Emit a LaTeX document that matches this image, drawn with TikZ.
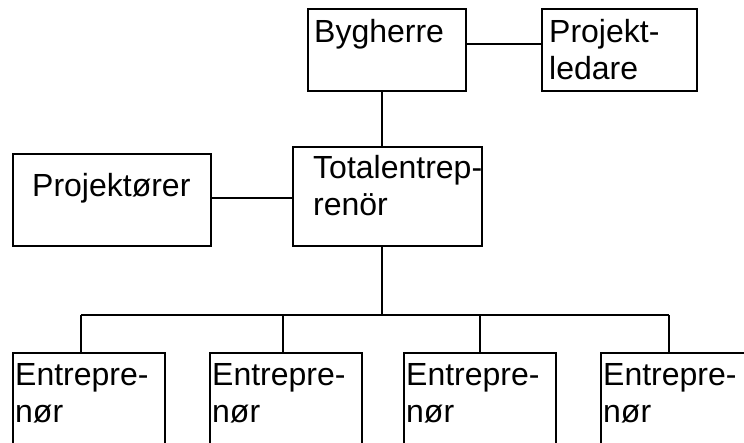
\documentclass[tikz,border=0pt]{standalone}
\usepackage{fontspec}
\setmainfont{Liberation Sans}
\usepackage{tikz}
\usetikzlibrary{positioning}
\tikzset{
    orgbox/.style = {rectangle, draw=black, line width=2pt, inner sep=0pt},
    boxtext/.style = {anchor=north west, inner sep=0pt, align=left, font=\fontsize{32}{37}\selectfont},
    conn/.style = {draw=black, line width=2pt}
}
\begin{document}
\begin{tikzpicture}[x=1pt, y=-1pt]
    \useasboundingbox (0,0) rectangle (744,443);
    \clip (0,0) rectangle (744,443);
    \node [orgbox, minimum width=158pt, minimum height=82pt] (byg) at (387,50) {};
    \node [orgbox, minimum width=155pt, minimum height=82pt] (pl) at (619.5,50) {};
    \node [orgbox, minimum width=189pt, minimum height=99pt] (tot) at (387.5,196.5) {};
    \node [orgbox, minimum width=198pt, minimum height=92pt] (proj) at (112,200) {};
    \foreach \n/\x in {e1/89, e2/286, e3/480, e4/677}
        \node [orgbox, minimum width=152pt, minimum height=120pt] (\n) at (\x,413) {};

    \node [boxtext] (bygtxt) at ([shift={(7pt,-11pt)}]byg.north west) {Bygherre};
    \node [boxtext] (pltxt) at ([shift={(8pt,-11pt)}]pl.north west) {Projekt-\\ledare};
    \node [boxtext] (tottxt) at ([shift={(21pt,-9pt)}]tot.north west) {Totalentrep-\\renör};
    \node [boxtext] (projtxt) at ([shift={(20pt,-20pt)}]proj.north west) {Projektører};
    \foreach \n in {e1, e2, e3, e4}
        \node [boxtext] (\n txt) at ([shift={(3pt,-11pt)}]\n.north west) {Entrepre-\\nør};

    \coordinate (bus) at (382,315);
    \draw [conn] ([yshift=6pt]byg.east) -- ([yshift=6pt]pl.west);
    \draw [conn] ([xshift=-5pt]byg.south) -- ([xshift=-5pt]byg.south |- tot.north);
    \draw [conn] ([yshift=2pt]proj.east) -- ([yshift=2pt]proj.east -| tot.west);
    \draw [conn] (tot.south -| bus) -- (bus);
    \draw [conn] ([xshift=-8pt]e1.north |- bus) -- ([xshift=-8pt]e4.north |- bus);
    \foreach \n/\dx in {e1/-8, e2/-3, e3/0, e4/-8}
        \draw [conn] ([xshift=\dx pt]\n.north) -- ([xshift=\dx pt]\n.north |- bus);
\end{tikzpicture}
\end{document}
